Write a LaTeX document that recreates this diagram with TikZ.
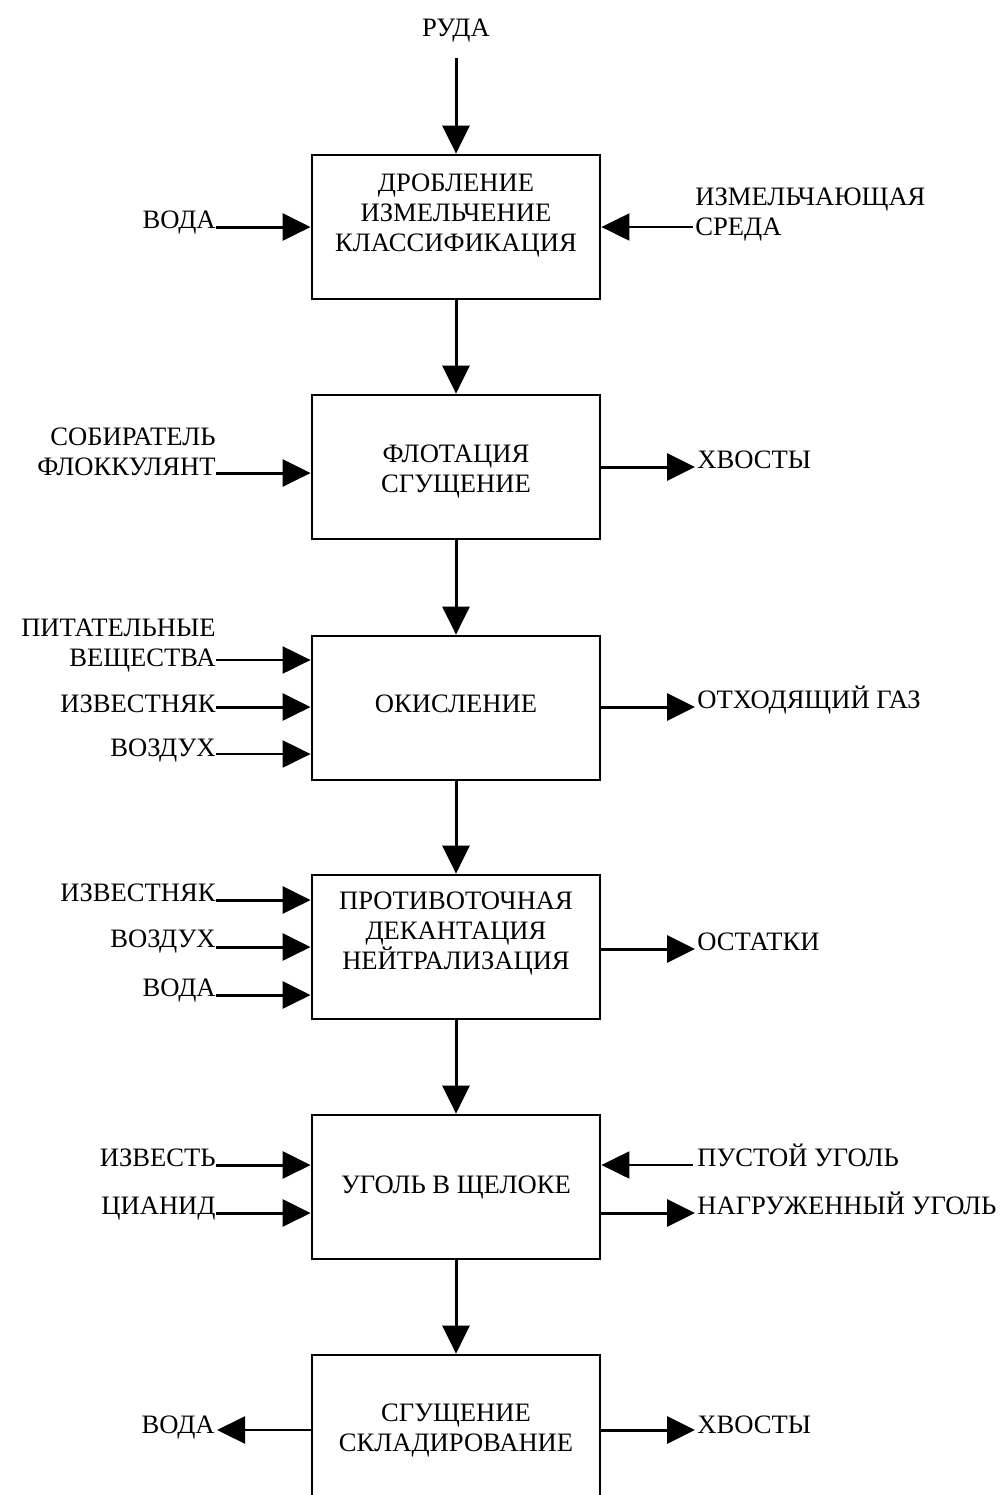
\documentclass[tikz,border=0pt]{standalone}
\usepackage{fontspec}
\setmainfont{Liberation Serif}
\usetikzlibrary{arrows.meta}
\begin{document}
\begin{tikzpicture}[x=0.5pt,y=-0.5pt,
  box/.style={draw,line width=1.4pt,minimum width=144pt,minimum height=72pt,inner sep=0pt},
  txt/.style={font=\fontsize{13.3pt}{14.85pt}\selectfont,inner sep=0pt},
  arr/.style={line width=1.5pt,-{Triangle[length=14pt,width=13.5pt]}},
  thinarr/.style={line width=1.1pt,-{Triangle[length=14pt,width=13.5pt]}},
  ]
\useasboundingbox (0,0) rectangle (1004,1495);
\clip (0,0) rectangle (1004,1495);

% boxes
\node[box] (b1) at (456,227) {};
\node[box] (b2) at (456,467) {};
\node[box] (b3) at (456,708) {};
\node[box] (b4) at (456,947) {};
\node[box] (b5) at (456,1187) {};
\node[box,minimum height=90pt] (b6) at (456,1445) {};

% box texts (base anchor = last line baseline)
\node[txt,align=center,anchor=base] (t1) at (456,251) {ДРОБЛЕНИЕ\\ИЗМЕЛЬЧЕНИЕ\\КЛАССИФИКАЦИЯ};
\node[txt,align=center,anchor=base] (t2) at (456,492) {ФЛОТАЦИЯ\\СГУЩЕНИЕ};
\node[txt,anchor=base] (t3) at (456,712) {ОКИСЛЕНИЕ};
\node[txt,align=center,anchor=base] (t4) at (456,969) {ПРОТИВОТОЧНАЯ\\ДЕКАНТАЦИЯ\\НЕЙТРАЛИЗАЦИЯ};
\node[txt,anchor=base] (t5) at (456,1193) {УГОЛЬ В ЩЕЛОКЕ};
\node[txt,align=center,anchor=base] (t6) at (456,1451) {СГУЩЕНИЕ\\СКЛАДИРОВАНИЕ};

% top input
\node[txt,anchor=base] (ruda) at (456,36) {РУДА};
\coordinate (cruda) at (456,58);
\draw[arr] (cruda) -- (b1.north);

% vertical flow
\draw[arr] (b1.south) -- (b2.north);
\draw[arr] (b2.south) -- (b3.north);
\draw[arr] (b3.south) -- (b4.north);
\draw[arr] (b4.south) -- (b5.north);
\draw[arr] (b5.south) -- (b6.north);

% ---- box 1
\node[txt,anchor=base east] (l11) at (216,228) {ВОДА};
\coordinate (c11) at (216,227);
\draw[arr] (c11) -- (c11 -| b1.west);
\node[txt,align=left,anchor=base west] (r11) at (695,235) {ИЗМЕЛЬЧАЮЩАЯ\\СРЕДА};
\coordinate (c12) at (693,227);
\draw[thinarr] (c12) -- (c12 -| b1.east);

% ---- box 2
\node[txt,align=right,anchor=base east] (l21) at (216,475) {СОБИРАТЕЛЬ\\ФЛОККУЛЯНТ};
\coordinate (c21) at (216,473);
\draw[arr] (c21) -- (c21 -| b2.west);
\node[txt,anchor=base west] (r21) at (697,468) {ХВОСТЫ};
\coordinate (c22) at (695,467);
\draw[arr] (c22 -| b2.east) -- (c22);

% ---- box 3
\node[txt,align=right,anchor=base east] (l31) at (216,666) {ПИТАТЕЛЬНЫЕ\\ВЕЩЕСТВА};
\coordinate (c31) at (216,660);
\draw[thinarr] (c31) -- (c31 -| b3.west);
\node[txt,anchor=base east] (l32) at (216,712) {ИЗВЕСТНЯК};
\coordinate (c32) at (216,707);
\draw[arr] (c32) -- (c32 -| b3.west);
\node[txt,anchor=base east] (l33) at (216,756) {ВОЗДУХ};
\coordinate (c33) at (216,754);
\draw[thinarr] (c33) -- (c33 -| b3.west);
\node[txt,anchor=base west] (r31) at (697,708) {ОТХОДЯЩИЙ ГАЗ};
\coordinate (c34) at (695,707);
\draw[arr] (c34 -| b3.east) -- (c34);

% ---- box 4
\node[txt,anchor=base east] (l41) at (216,901) {ИЗВЕСТНЯК};
\coordinate (c41) at (216,900);
\draw[arr] (c41) -- (c41 -| b4.west);
\node[txt,anchor=base east] (l42) at (216,947) {ВОЗДУХ};
\coordinate (c42) at (216,947);
\draw[arr] (c42) -- (c42 -| b4.west);
\node[txt,anchor=base east] (l43) at (216,996) {ВОДА};
\coordinate (c43) at (216,995);
\draw[arr] (c43) -- (c43 -| b4.west);
\node[txt,anchor=base west] (r41) at (697,950) {ОСТАТКИ};
\coordinate (c44) at (695,949);
\draw[arr] (c44 -| b4.east) -- (c44);

% ---- box 5
\node[txt,anchor=base east] (l51) at (216,1166) {ИЗВЕСТЬ};
\coordinate (c51) at (216,1165);
\draw[arr] (c51) -- (c51 -| b5.west);
\node[txt,anchor=base east] (l52) at (216,1214) {ЦИАНИД};
\coordinate (c52) at (216,1213);
\draw[arr] (c52) -- (c52 -| b5.west);
\node[txt,anchor=base west] (r51) at (697,1166) {ПУСТОЙ УГОЛЬ};
\coordinate (c53) at (693,1165);
\draw[thinarr] (c53) -- (c53 -| b5.east);
\node[txt,anchor=base west] (r52) at (697,1214) {НАГРУЖЕННЫЙ УГОЛЬ};
\coordinate (c54) at (695,1213);
\draw[arr] (c54 -| b5.east) -- (c54);

% ---- box 6
\node[txt,anchor=base east] (l61) at (215,1433) {ВОДА};
\coordinate (c61) at (217,1430);
\draw[thinarr] (c61 -| b6.west) -- (c61);
\node[txt,anchor=base west] (r61) at (697,1433) {ХВОСТЫ};
\coordinate (c62) at (695,1430);
\draw[arr] (c62 -| b6.east) -- (c62);
\end{tikzpicture}
\end{document}
